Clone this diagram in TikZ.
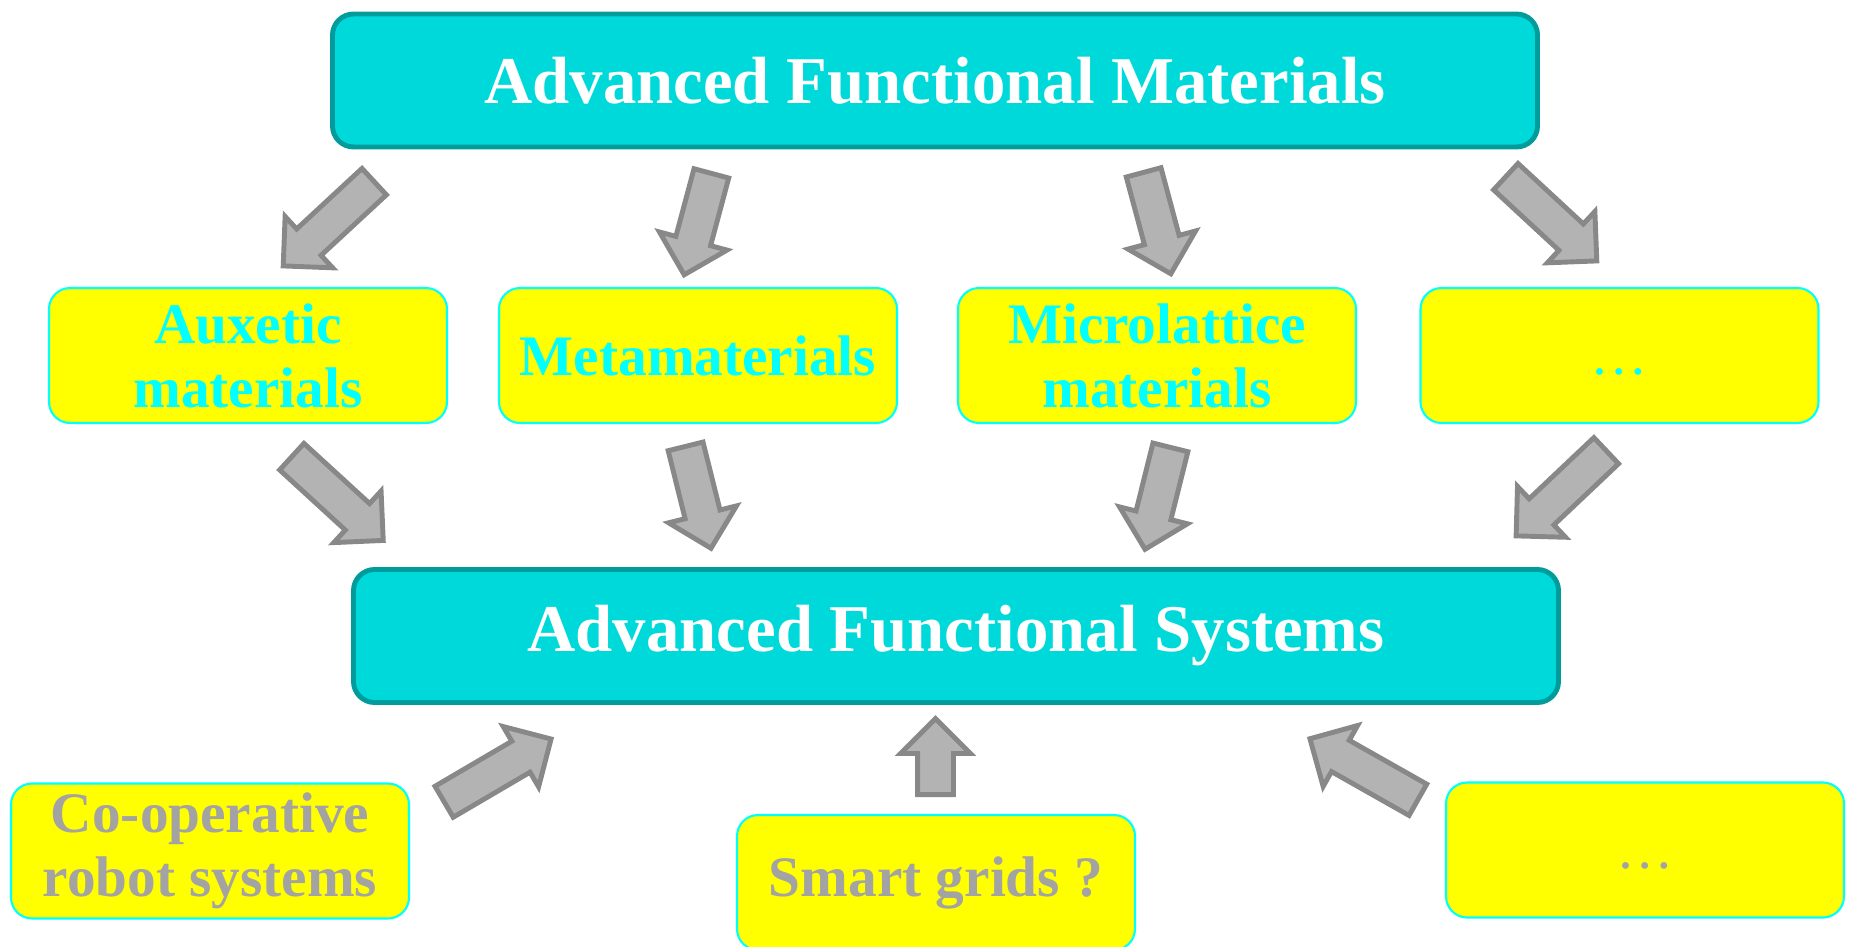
\documentclass[tikz,border=0pt]{standalone}
\usepackage{fontspec}
\setmainfont{Liberation Serif}
\usepackage{xcolor}
\usepackage{tikz}
\usetikzlibrary{shapes.arrows}
\definecolor{capfill}{HTML}{00D9DA}
\definecolor{capline}{HTML}{009C9C}
\definecolor{itemfill}{HTML}{FFFF00}
\definecolor{itemline}{HTML}{00FFFF}
\definecolor{mattext}{HTML}{00FFFF}
\definecolor{systext}{HTML}{A3A3A3}
\definecolor{arrfill}{HTML}{B3B3B3}
\definecolor{arrline}{HTML}{888888}
\tikzset{
  capbox/.style={
    draw=capline, fill=capfill, line width=1.4pt, rounded corners=6pt,
    minimum width=12.05cm, minimum height=1.33cm, inner sep=0pt,
    text=white, font=\fontsize{19}{23}\selectfont\bfseries
  },
  item/.style={
    draw=itemline, fill=itemfill, line width=0.6pt, rounded corners=6pt,
    minimum width=3.98cm, minimum height=1.35cm, inner sep=0pt,
    align=center, font=\fontsize{16.3}{18.2}\selectfont\bfseries
  },
  mat/.style={item, text=mattext},
  sys/.style={item, text=systext},
  block/.style={
    single arrow, draw=arrline, fill=arrfill, line width=1.4pt,
    inner xsep=0pt, inner ysep=0.155cm, single arrow head extend=0.17cm,
    anchor=tail
  }
}
\begin{document}
\begin{tikzpicture}
  \useasboundingbox (0,0) rectangle (18.5,9.46);

  \node[capbox] (afm) at (9.35,8.655) {Advanced Functional Materials};
  \node[capbox] (afs) at (9.56,3.10) {Advanced Functional Systems};

  % materials row
  \node[mat] (aux)   at (2.48,5.905)  {Auxetic\\materials};
  \node[mat] (meta)  at (6.98,5.905)  {Metamaterials};
  \node[mat] (micro) at (11.57,5.905) {Microlattice\\materials};
  \node[mat] (mmore) at (16.195,5.905) {\vphantom{A}\mdseries\ldots};

  % systems row
  \node[sys] (robot) at (2.10,0.95)  {Co-operative\\robot systems};
  \node[sys] (grid)  at (9.36,0.635) {Smart grids ?};
  \node[sys] (smore) at (16.45,0.96) {\vphantom{A}\mdseries\ldots};

  % block arrows: tail x / tail y / angle / length
  \foreach \n/\x/\y/\a/\l in {1/3.76/7.66/222.8/1.24, 2/7.12/7.75/255/1.05,
      3/11.43/7.76/285/1.05, 4/15.04/7.71/317.2/1.24,
      5/2.90/4.91/317.5/1.24, 6/6.85/5.02/284/1.05,
      7/11.71/5.01/256/1.05, 8/16.08/4.97/223.4/1.24,
      9/4.42/1.43/30.4/1.24, 10/9.355/1.49/90/0.76, 11/14.20/1.45/150.5/1.24}
    \node[block, rotate=\a, minimum height=\l cm] (arr\n) at (\x,\y) {};
\end{tikzpicture}
\end{document}
